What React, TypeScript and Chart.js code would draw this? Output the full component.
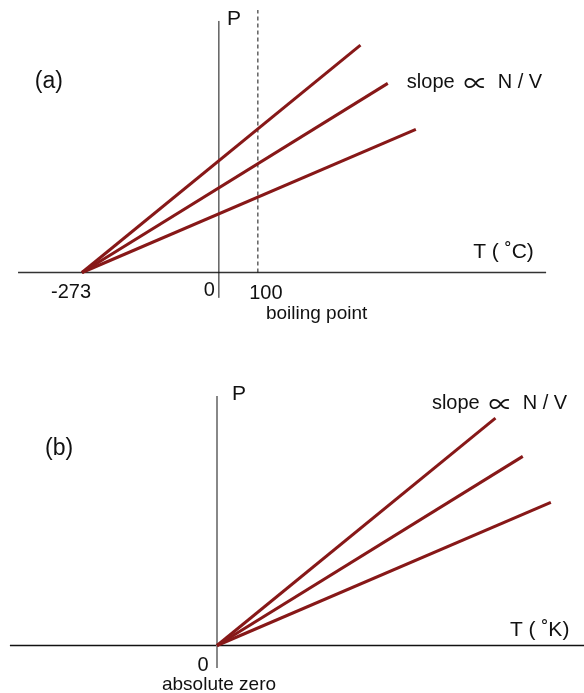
import React, { useEffect, useRef } from 'react';
import { Chart, registerables } from 'chart.js';

Chart.register(...registerables);

// Schematic diagram (not to scale). Temperature is measured from absolute zero
// in drawing units; pressure is in arbitrary units.
const isochoreEndT = [7.14, 7.84, 8.56];
const isochoreEndP = [5.83, 4.85, 3.67];
const zeroCelsiusT = 3.51; // where 0 °C sits on the schematic axis
const boilingT = 4.51; // where 100 °C sits on the schematic axis
const celsiusTickLabels = ['-273', '0', '100'];
const kelvinTickLabels = ['0'];
const slopeWords = ['slope', '\u221D', 'N / V'];

const FONT = "'Liberation Sans', Arial, 'DejaVu Sans', sans-serif";
const SYMBOL_FONT = "'Noto Sans CJK JP', 'DejaVu Sans', sans-serif";
const RED = '#871818';
const UNIT = 39; // pixels per drawing unit (layout only)

type Part = { text: string; size: number; family?: string; gap?: number; width?: number };
type Label = { text?: string; parts?: Part[]; t: number; p: number; dx?: number; dy?: number; align?: CanvasTextAlign; size: number };

const textPlugin = {
  id: 'diagramText',
  afterDatasetsDraw(chart: any, _args: any, opts: any) {
    const { ctx } = chart;
    const x = chart.scales.x;
    const y = chart.scales.y;
    ctx.save();
    ctx.fillStyle = '#111';
    ctx.textBaseline = 'middle';
    for (const l of opts.labels as Label[]) {
      const px = x.getPixelForValue(l.t) + (l.dx || 0);
      const py = y.getPixelForValue(l.p) + (l.dy || 0);
      if (l.parts) {
        ctx.textAlign = 'left';
        let cx = px;
        for (const part of l.parts) {
          cx += part.gap || 0;
          ctx.font = `${part.size}px ${part.family || FONT}`;
          ctx.fillText(part.text, cx, py);
          cx += part.width ?? ctx.measureText(part.text).width;
        }
      } else {
        ctx.font = `${l.size}px ${FONT}`;
        ctx.textAlign = l.align || 'left';
        ctx.fillText(l.text, px, py);
      }
    }
    ctx.restore();
  },
};

function slopeParts(): Part[] {
  return [
    { text: slopeWords[0], size: 20 },
    { text: slopeWords[1], size: 24, family: SYMBOL_FONT, gap: 9, width: 21 },
    { text: slopeWords[2], size: 20, gap: 13 },
  ];
}

function isochores() {
  return isochoreEndT.map((t, i) => ({
    data: [
      { x: 0, y: 0 },
      { x: t, y: isochoreEndP[i] },
    ],
    showLine: true,
    borderColor: RED,
    borderWidth: 3,
    pointRadius: 0,
    borderCapStyle: 'butt',
  }));
}

function seg(x1: number, y1: number, x2: number, y2: number, color: string, width: number, dash: number[] = []) {
  return {
    data: [
      { x: x1, y: y1 },
      { x: x2, y: y2 },
    ],
    showLine: true,
    borderColor: color,
    borderWidth: width,
    borderDash: dash,
    pointRadius: 0,
  };
}

type PanelProps = {
  top: number;
  height: number;
  originX: number;
  originY: number;
  datasets: any[];
  labels: Label[];
};

function Panel({ top, height, originX, originY, datasets, labels }: PanelProps) {
  const ref = useRef<HTMLCanvasElement>(null);
  useEffect(() => {
    const chart = new Chart(ref.current as HTMLCanvasElement, {
      type: 'scatter',
      data: { datasets },
      options: {
        responsive: false,
        animation: false,
        events: [],
        layout: { padding: 0 },
        plugins: {
          legend: { display: false },
          tooltip: { enabled: false },
          diagramText: { labels },
        } as any,
        scales: {
          x: { type: 'linear', display: false, min: -originX / UNIT, max: (584 - originX) / UNIT },
          y: { type: 'linear', display: false, min: -(height - originY) / UNIT, max: originY / UNIT },
        },
      },
      plugins: [textPlugin as any],
    });
    return () => chart.destroy();
  }, []);
  return (
    <canvas
      ref={ref}
      width={584}
      height={height}
      style={{ position: 'absolute', left: 0, top, display: 'block' }}
    />
  );
}

export default function App() {
  const dsA = [
    ...isochores(),
    seg(zeroCelsiusT, -0.65, zeroCelsiusT, 6.45, '#111', 1),
    seg(boilingT, 0, boilingT, 6.73, '#111', 1, [4, 3]),
    seg(-1.64, 0, 11.9, 0, '#333', 1.5),
  ];
  const labelsA: Label[] = [
    { text: '(a)', t: -0.85, p: 4.89, align: 'center', size: 23 },
    { text: 'P', t: zeroCelsiusT, p: 6.5, dx: 8, size: 21 },
    { parts: slopeParts(), t: 8.33, p: 4.86, size: 20 },
    { text: 'T ( \u02DAC)', t: 10.03, p: 0.53, size: 21 },
    { text: celsiusTickLabels[0], t: 0, p: -0.5, dx: -11, align: 'center', size: 20 },
    { text: celsiusTickLabels[1], t: zeroCelsiusT, p: -0.45, dx: -4, align: 'right', size: 20 },
    { text: celsiusTickLabels[2], t: boilingT, p: -0.53, dx: 8, align: 'center', size: 20 },
    { text: 'boiling point', t: boilingT, p: -1.06, dx: 8, size: 19 },
  ];
  const dsB = [
    ...isochores(),
    seg(0, -0.58, 0, 6.4, '#888', 2),
    seg(-5.31, 0, 9.6, 0, '#111', 1.5),
  ];
  const labelsB: Label[] = [
    { text: '(b)', t: -4.05, p: 5.04, align: 'center', size: 23 },
    { text: 'P', t: 0, p: 6.44, dx: 15, size: 21 },
    { parts: slopeParts(), t: 5.51, p: 6.2, size: 20 },
    { text: 'T ( \u02DAK)', t: 7.51, p: 0.4, size: 21 },
    { text: kelvinTickLabels[0], t: 0, p: -0.51, dx: -14, align: 'center', size: 20 },
    { text: 'absolute zero', t: 0, p: -1.01, dx: 2, align: 'center', size: 19 },
  ];
  return (
    <div style={{ position: 'absolute', left: 0, top: 0, width: 584, height: 693, background: '#fff' }}>
      <Panel top={0} height={340} originX={82} originY={272.5} datasets={dsA} labels={labelsA} />
      <Panel top={340} height={353} originX={217} originY={305.5} datasets={dsB} labels={labelsB} />
    </div>
  );
}
